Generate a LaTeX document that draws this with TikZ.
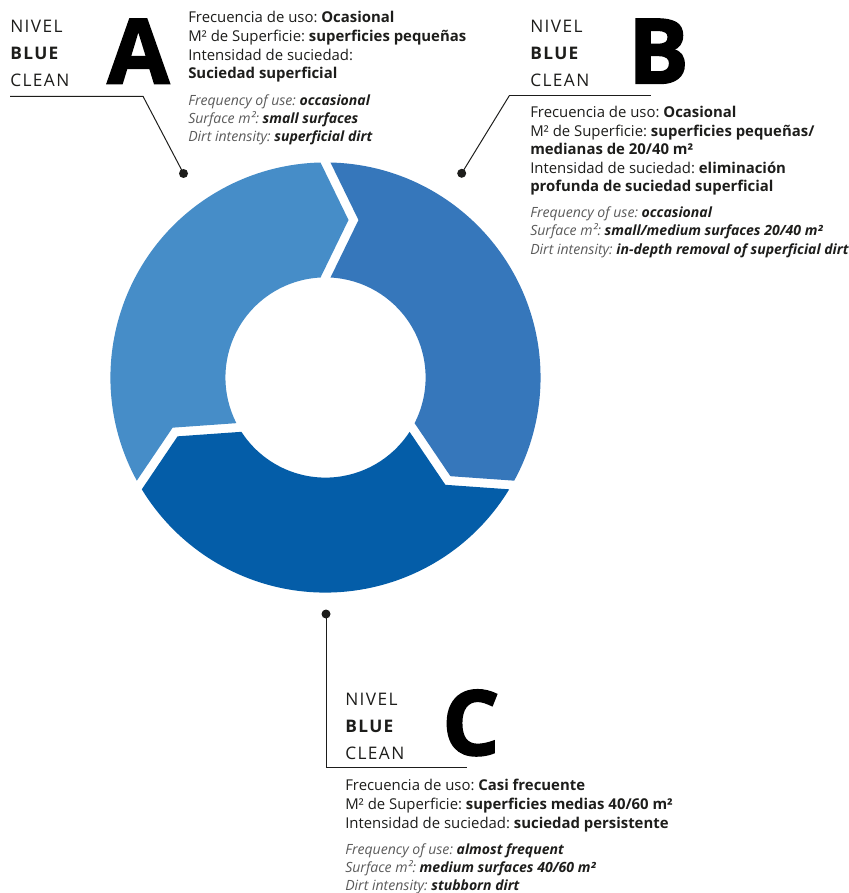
\documentclass[tikz,border=0pt]{standalone}
\usepackage{fontspec}
\setmainfont{Open Sans}
\newfontfamily\spacedfont[LetterSpace=8]{Open Sans}
\newfontfamily\heavyfont[BoldFeatures={FakeBold=2}]{Open Sans}
\definecolor{blueA}{HTML}{468DC8}
\definecolor{blueB}{HTML}{3677BB}
\definecolor{blueC}{HTML}{045DA8}
\definecolor{inkdark}{HTML}{1D1D1B}
\definecolor{inkgray}{HTML}{5A5A5A}
\newcommand{\keyterm}[1]{{\bfseries\color{inkdark}#1}}
\frenchspacing

\begin{document}
\begin{tikzpicture}[x=0.025cm, y=-0.025cm,
        leader/.style={draw=inkdark, line width=0.7pt},
        nivel/.style={anchor=north west, inner sep=0pt, align=left, text=inkdark, font=\spacedfont\fontsize{12.3}{19.2}\selectfont},
        bigletter/.style={anchor=base west, inner sep=0pt, text=black, font=\heavyfont\fontsize{64}{64}\selectfont\bfseries},
        infoes/.style={anchor=north west, inner sep=0pt, align=left, text=inkdark, font=\fontsize{10.6}{13.2}\selectfont},
        infoen/.style={anchor=north west, inner sep=0pt, align=left, text=inkgray, font=\fontsize{10}{13}\selectfont\itshape}]
        \useasboundingbox (0,0) rectangle (848,893);

        \begin{scope}[shift={(325.5,377.5)}, yscale=-1]
        \fill[blueB] (88.67:215.06) arc[start angle=88.67, end angle=-28.67, radius=215.06]
            -- (-38.31:159.2) -- (-27.14:100.1) arc[start angle=-27.14, end angle=87.14, radius=100.1]
            -- (78.17:160.9) -- cycle;
        \fill[blueC] (-31.33:215.06) arc[start angle=-31.33, end angle=-148.67, radius=215.06]
            -- (-158.31:159.2) -- (-147.14:100.1) arc[start angle=-147.14, end angle=-32.86, radius=100.1]
            -- (-41.83:160.9) -- cycle;
        \fill[blueA] (-151.33:215.06) arc[start angle=-151.33, end angle=-268.67, radius=215.06]
            -- (-278.31:159.2) -- (-267.14:100.1) arc[start angle=-267.14, end angle=-152.86, radius=100.1]
            -- (-161.83:160.9) -- cycle;
        \end{scope}

        \coordinate (dotA) at (183.5,173.5);
        \coordinate (kneeA) at (143,96.3);
        \coordinate (endA) at (10,96.3);
        \coordinate (dotB) at (461.7,173.3);
        \coordinate (kneeB) at (509.3,95.7);
        \coordinate (endB) at (651,95.7);
        \coordinate (dotC) at (326,614);
        \coordinate (kneeC) at (326,767);
        \coordinate (endC) at (466.7,767);

        \draw[leader] (endA) -- (kneeA) -- (dotA);
        \draw[leader] (kneeB) -- (dotB);
        \draw[leader] (kneeB) -- (endB);
        \draw[leader] (dotC) -- (kneeC) -- (endC);
        \fill[inkdark] (dotA) circle[radius=3.2pt];
        \fill[inkdark] (dotB) circle[radius=3.2pt];
        \fill[inkdark] (dotC) circle[radius=3.2pt];

        \node[nivel] (nivelA) at (10,20) {NIVEL\\\textbf{BLUE}\\CLEAN};
        \node[bigletter] (letterA) at (107,83.5) {A};
        \node[infoes] (esA) at (188,11.3) {Frecuencia de uso: \keyterm{Ocasional}\\M² de Superficie: \keyterm{superficies pequeñas}\\Intensidad de suciedad:\\\keyterm{Suciedad superficial}};
        \node[infoen] (enA) at (188,94.3) {Frequency of use: \keyterm{occasional}\\Surface m²: \keyterm{small surfaces}\\Dirt intensity: \keyterm{superficial dirt}};

        \node[nivel] (nivelB) at (530,20) {NIVEL\\\textbf{BLUE}\\CLEAN};
        \node[bigletter] (letterB) at (628,83.3) {B};
        \node[infoes] (esB) at (530,105.9) {Frecuencia de uso: \keyterm{Ocasional}\\M² de Superficie: \keyterm{superficies pequeñas/}\\\keyterm{medianas de 20/40 m²}\\Intensidad de suciedad: \keyterm{eliminación}\\\keyterm{profunda de suciedad superficial}};
        \node[infoen] (enB) at (530,206.5) {Frequency of use: \keyterm{occasional}\\Surface m²: \keyterm{small/medium surfaces 20/40 m²}\\Dirt intensity: \keyterm{in-depth removal of superficial dirt}};

        \node[nivel] (nivelC) at (345,693.3) {NIVEL\\\textbf{BLUE}\\CLEAN};
        \node[bigletter] (letterC) at (442,755) {C};
        \node[infoes] (esC) at (345,779.3) {Frecuencia de uso: \keyterm{Casi frecuente}\\M² de Superficie: \keyterm{superficies medias 40/60 m²}\\Intensidad de suciedad: \keyterm{suciedad persistente}};
        \node[infoen] (enC) at (345,843.3) {Frequency of use: \keyterm{almost frequent}\\Surface m²: \keyterm{medium surfaces 40/60 m²}\\Dirt intensity: \keyterm{stubborn dirt}};
\end{tikzpicture}
\end{document}
